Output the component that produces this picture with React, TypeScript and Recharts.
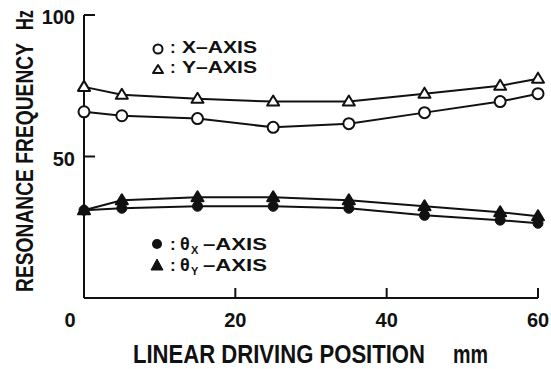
import { LineChart, Line, XAxis, YAxis } from "recharts";

const positions = [0, 5, 15, 25, 35, 45, 55, 60];
const xAxisFreq = [65.8, 64.4, 63.4, 60.3, 61.6, 65.5, 69.4, 72.2];
const yAxisFreq = [74.6, 71.8, 70.4, 69.4, 69.4, 72.2, 75.0, 77.5];
const thetaXFreq = [31.0, 31.7, 32.4, 32.4, 31.7, 29.2, 27.5, 26.4];
const thetaYFreq = [31.0, 34.5, 35.6, 35.6, 34.5, 32.4, 30.3, 28.9];
const xTicks = [0, 20, 40, 60];
const yTicks = [50, 100];

const data = positions.map((p, i) => ({
  pos: p,
  x: xAxisFreq[i],
  y: yAxisFreq[i],
  tx: thetaXFreq[i],
  ty: thetaYFreq[i],
}));

const INK = "#111";
const FONT = "'Liberation Sans', Arial, Helvetica, sans-serif";

const triangle = (filled: boolean) => (props: any) => {
  const { cx, cy, index } = props;
  if (cx == null || cy == null) return <g key={index} />;
  return (
    <polygon
      key={index}
      points={`${cx},${cy - 6} ${cx - 6},${cy + 4} ${cx + 6},${cy + 4}`}
      fill={filled ? INK : "#fff"}
      stroke={INK}
      strokeWidth={2}
      strokeLinejoin="round"
    />
  );
};

const XTick = (props: any) => {
  const { x, y, payload } = props;
  const shift = payload.value === 0 ? -14 : 0;
  return (
    <g>
      {payload.value !== 0 && <line x1={x} y1={y} x2={x} y2={y - 10} stroke={INK} strokeWidth={2} />}
      <text x={x + shift} y={y + 29} textAnchor="middle" fontSize={20} fontWeight="bold" fontFamily={FONT} fill={INK}>
        {payload.value}
      </text>
    </g>
  );
};

const YTick = (props: any) => {
  const { x, y, payload } = props;
  return (
    <g>
      <line x1={x} y1={y} x2={x + 11} y2={y} stroke={INK} strokeWidth={2} />
      <text x={x - 9} y={y + 9} textAnchor="end" fontSize={20} fontWeight="bold" fontFamily={FONT} fill={INK}>
        {payload.value}
      </text>
    </g>
  );
};

const txt = { fontFamily: FONT, fontWeight: "bold" as const, fill: INK };

export default function App() {
  return (
    <div style={{ position: "absolute", left: 0, top: 0, width: 551, height: 369, background: "#fff" }}>
      <LineChart width={551} height={369} data={data} margin={{ top: 15, right: 13, left: 0, bottom: 0 }}>
        <XAxis
          dataKey="pos"
          type="number"
          domain={[0, 60]}
          ticks={xTicks}
          height={71}
          tickSize={0}
          tickMargin={0}
          tickLine={false}
          axisLine={{ stroke: INK, strokeWidth: 2 }}
          tick={<XTick />}
          interval={0}
        />
        <YAxis
          type="number"
          domain={[0, 100]}
          ticks={yTicks}
          width={84}
          tickSize={0}
          tickMargin={0}
          tickLine={false}
          axisLine={{ stroke: INK, strokeWidth: 2 }}
          tick={<YTick />}
          interval={0}
        />
        <Line
          dataKey="y"
          type="linear"
          stroke={INK}
          strokeWidth={2}
          dot={triangle(false)}
          isAnimationActive={false}
        />
        <Line
          dataKey="x"
          type="linear"
          stroke={INK}
          strokeWidth={2}
          dot={{ r: 5.5, fill: "#fff", stroke: INK, strokeWidth: 2 }}
          isAnimationActive={false}
        />
        <Line
          dataKey="ty"
          type="linear"
          stroke={INK}
          strokeWidth={2}
          dot={triangle(true)}
          isAnimationActive={false}
        />
        <Line
          dataKey="tx"
          type="linear"
          stroke={INK}
          strokeWidth={2}
          dot={{ r: 5, fill: INK, stroke: INK, strokeWidth: 1 }}
          isAnimationActive={false}
        />

        {/* axis titles: narrow, tall lettering as in the scan */}
        <text
          transform="translate(33,292) rotate(-90) scale(1,1.22)"
          fontSize={20}
          textLength={249}
          lengthAdjust="spacingAndGlyphs"
          {...txt}
        >
          RESONANCE FREQUENCY
        </text>
        <text
          transform="translate(33,30) rotate(-90) scale(1,1.22)"
          fontSize={20}
          textLength={20}
          lengthAdjust="spacingAndGlyphs"
          {...txt}
        >
          Hz
        </text>
        <text
          transform="translate(133,363) scale(1,1.14)"
          fontSize={22}
          textLength={292}
          lengthAdjust="spacingAndGlyphs"
          {...txt}
        >
          LINEAR DRIVING POSITION
        </text>
        <text
          transform="translate(453,363) scale(1,1.14)"
          fontSize={22}
          textLength={35}
          lengthAdjust="spacingAndGlyphs"
          {...txt}
        >
          mm
        </text>

        {/* legend, upper pair */}
        <circle cx={158} cy={49} r={4.5} fill="#fff" stroke={INK} strokeWidth={2} />
        <text x={170} y={53} fontSize={17} {...txt}>:</text>
        <text x={182} y={53} fontSize={17} textLength={75} lengthAdjust="spacingAndGlyphs" {...txt}>X–AXIS</text>
        <polygon points="158,65 153,73 163,73" fill="#fff" stroke={INK} strokeWidth={2} strokeLinejoin="round" />
        <text x={170} y={73} fontSize={17} {...txt}>:</text>
        <text x={182} y={73} fontSize={17} textLength={75} lengthAdjust="spacingAndGlyphs" {...txt}>Y–AXIS</text>

        {/* legend, lower pair */}
        <circle cx={157} cy={244} r={5} fill={INK} />
        <text x={170} y={250} fontSize={17} {...txt}>:</text>
        <text x={180} y={250} fontSize={18} {...txt}>θ</text>
        <text x={191} y={254} fontSize={11} {...txt}>X</text>
        <text x={203} y={250} fontSize={17} textLength={64} lengthAdjust="spacingAndGlyphs" {...txt}>–AXIS</text>
        <polygon points="157,259 151,270 163,270" fill={INK} stroke={INK} strokeWidth={1} strokeLinejoin="round" />
        <text x={170} y={271} fontSize={17} {...txt}>:</text>
        <text x={180} y={271} fontSize={18} {...txt}>θ</text>
        <text x={191} y={275} fontSize={11} {...txt}>Y</text>
        <text x={203} y={271} fontSize={17} textLength={64} lengthAdjust="spacingAndGlyphs" {...txt}>–AXIS</text>
      </LineChart>
    </div>
  );
}
